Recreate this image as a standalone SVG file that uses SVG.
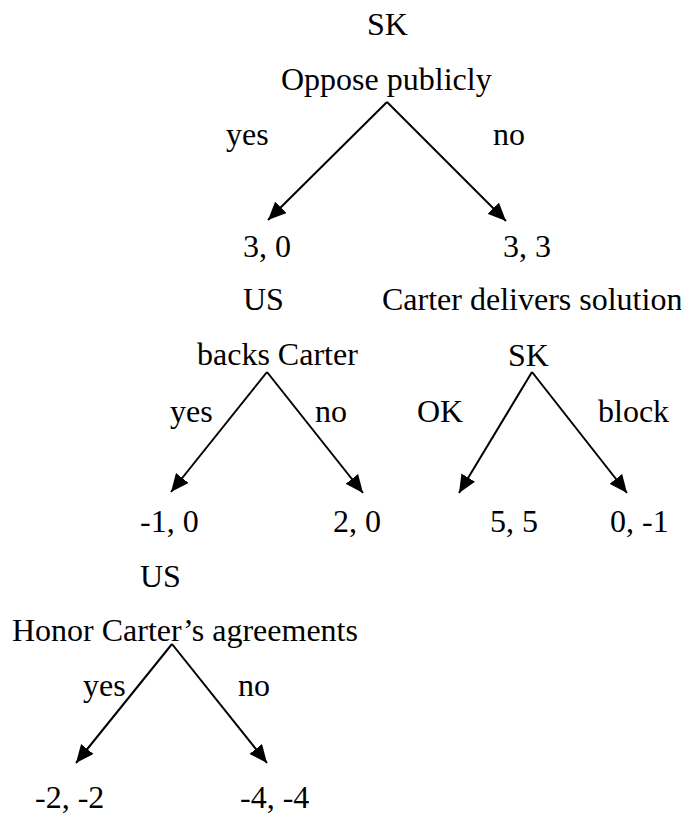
<svg xmlns="http://www.w3.org/2000/svg" width="681" height="815" viewBox="0 0 681 815">
<style>
text{font-family:"Liberation Serif","Times New Roman",serif;font-size:32px;fill:#000}
.e{stroke:#000;stroke-width:2;fill:none;marker-end:url(#ah)}
</style>
<defs>
<marker id="ah" markerUnits="userSpaceOnUse" markerWidth="20" markerHeight="16" viewBox="0 0 20 16" refX="18" refY="8" orient="auto">
<path d="M0,0 L18,8 L0,16 Z" fill="#000"/>
</marker>
</defs>
<rect width="681" height="815" fill="#fff"/>
<g id="n-root">
<text x="367" y="35">SK</text>
<text x="281" y="90">Oppose publicly</text>
</g>
<g id="n-lbl1">
<text x="226" y="145">yes</text>
<text x="493" y="145">no</text>
</g>
<g id="n-30"><text x="243" y="257">3, 0</text></g>
<g id="n-33"><text x="503" y="257">3, 3</text></g>
<g id="n-us1">
<text x="243" y="310">US</text>
<text x="197" y="365">backs Carter</text>
</g>
<g id="n-sk2">
<text x="382" y="310">Carter delivers solution</text>
<text x="508" y="366">SK</text>
</g>
<g id="n-lbl2">
<text x="170" y="422">yes</text>
<text x="315" y="422">no</text>
<text x="417" y="422">OK</text>
<text x="598" y="422">block</text>
</g>
<g id="n-m10"><text x="140" y="532">-1, 0</text></g>
<g id="n-20"><text x="333" y="532">2, 0</text></g>
<g id="n-55"><text x="490" y="532">5, 5</text></g>
<g id="n-0m1"><text x="610" y="532">0, -1</text></g>
<g id="n-us2">
<text x="140" y="587">US</text>
<text x="12" y="641">Honor Carter’s agreements</text>
</g>
<g id="n-lbl3">
<text x="83" y="696">yes</text>
<text x="238" y="696">no</text>
</g>
<g id="n-m2"><text x="35" y="808">-2, -2</text></g>
<g id="n-m4"><text x="240" y="808">-4, -4</text></g>
<g id="edges">
<line class="e" x1="387" y1="102" x2="268" y2="220"/>
<line class="e" x1="387" y1="102" x2="506" y2="221"/>
<line class="e" x1="267" y1="372" x2="171" y2="492"/>
<line class="e" x1="267" y1="372" x2="363" y2="493"/>
<line class="e" x1="532" y1="372" x2="459" y2="493"/>
<line class="e" x1="532" y1="372" x2="627" y2="493"/>
<line class="e" x1="172" y1="644" x2="76" y2="763"/>
<line class="e" x1="172" y1="644" x2="267" y2="763"/>
</g>
</svg>
